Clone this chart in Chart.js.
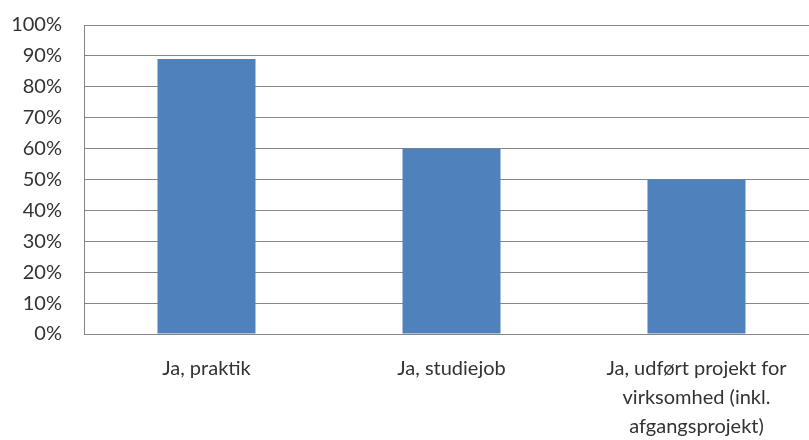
<!DOCTYPE html>
<html lang="da">
<head>
<meta charset="UTF-8"/>
<title>Ja-svar</title>
<script src="https://cdn.jsdelivr.net/npm/chart.js"></script>
<style>
    body { margin: 0; background: #fff; overflow: hidden; }
    .wrap { width: 830px; height: 449px; margin-top: -9px; }
</style>
</head>
<body>
<div class="wrap"><canvas id="chart"></canvas></div>
<script>
    const categories = [
        'Ja, praktik',
        'Ja, studiejob',
        ['Ja, udført projekt for', 'virksomhed (inkl.', 'afgangsprojekt)']
    ];
    const values = [89, 60, 50];
    const yTicks = [0, 10, 20, 30, 40, 50, 60, 70, 80, 90, 100];

    const font = { family: 'Lato, "Open Sans", sans-serif', size: 20 };

    new Chart(document.getElementById('chart'), {
        type: 'bar',
        data: {
            labels: categories,
            datasets: [{
                data: values,
                backgroundColor: '#4f81bd',
                categoryPercentage: 1,
                barPercentage: 0.4
            }]
        },
        options: {
            responsive: true,
            maintainAspectRatio: false,
            animation: false,
            layout: { padding: { top: 6, right: 11, left: 8, bottom: 0 } },
            plugins: { legend: { display: false }, tooltip: { enabled: false } },
            scales: {
                x: {
                    grid: { display: false, drawTicks: false },
                    border: { color: '#868686', width: 1 },
                    ticks: { color: '#333', font: { ...font, lineHeight: 1.45 }, padding: 20, maxRotation: 0 },
                    afterFit: axis => { axis.height = 106; }
                },
                y: {
                    min: 0,
                    max: 100,
                    afterBuildTicks: axis => { axis.ticks = yTicks.map(v => ({ value: v })); },
                    grid: { color: '#868686', drawTicks: false },
                    border: { color: '#868686', width: 1 },
                    ticks: { color: '#333', font: font, padding: 22, callback: v => v + '%' },
                    afterFit: axis => { axis.width = 76; }
                }
            }
        }
    });
</script>
</body>
</html>
